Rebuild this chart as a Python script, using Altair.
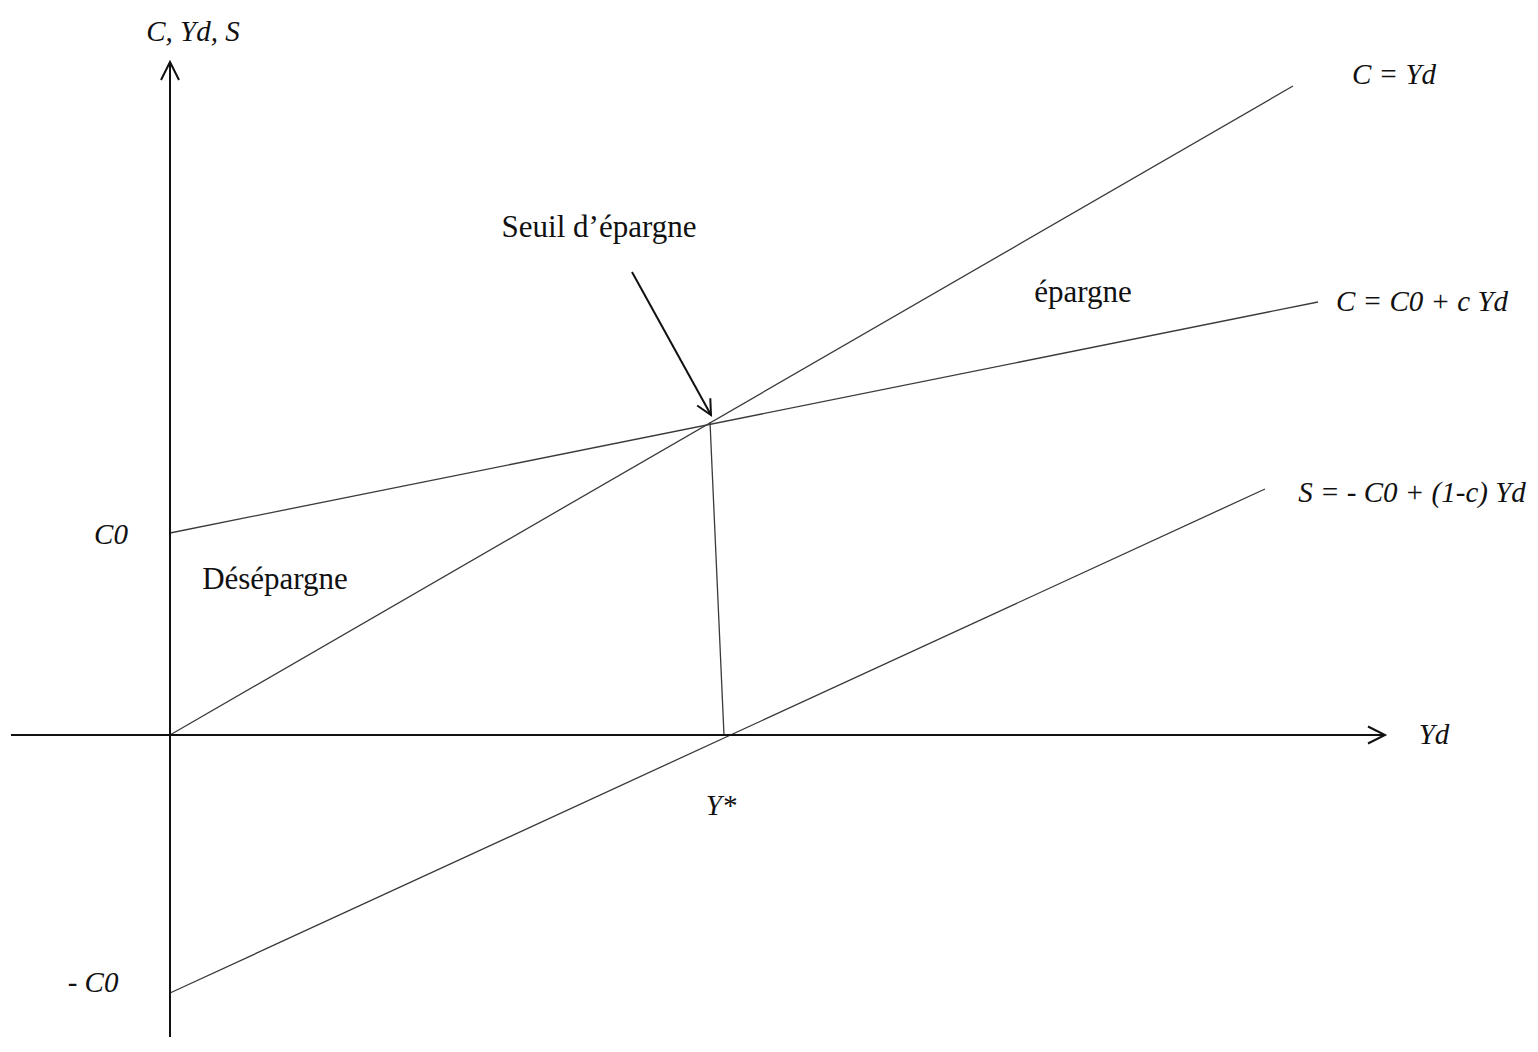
import altair as alt
import pandas as pd

# Schematic Keynesian consumption diagram (arbitrary units: origin at the axes crossing)
seg_names = ["C = Yd", "C = C0 + c Yd", "S = -C0 + (1-c) Yd", "drop"]
seg_x0 = [0, 0, 0, 540]
seg_y0 = [0, 202, -258, 313]
seg_x1 = [1123, 1148, 1095, 554]
seg_y1 = [649, 433, 246, 0]

axis_names = ["x-axis", "y-axis", "seuil-arrow"]
axis_x0 = [-159, 0, 462]
axis_y0 = [0, -302, 463]
axis_x1 = [1215, 0, 541]
axis_y1 = [0, 673, 320]

head_x = [1215, 0, 541]
head_y = [0, 673, 320]
head_angle = [0, 270, 61]
head_size = [1156, 1296, 900]

ital_text = ["C, Yd, S", "C = Yd", "C = C0 + c Yd", "S = - C0 + (1-c) Yd", "Yd", "Y*", "C0", "- C0"]
ital_x = [23, 1224, 1252, 1242, 1264, 551, -59, -77]
ital_y = [703, 660, 433, 242, 0, -71, 200, -248]

norm_text = ["Seuil d’épargne", "épargne", "Désépargne"]
norm_x = [429, 913, 105]
norm_y = [507, 442, 155]

def seg_df(names, x0, y0, x1, y1):
    rows = []
    for n, a, b, c, d in zip(names, x0, y0, x1, y1):
        rows.append({"seg": n, "o": 0, "x": a, "y": b})
        rows.append({"seg": n, "o": 1, "x": c, "y": d})
    return pd.DataFrame(rows)

xs = alt.Scale(domain=[-162, 1360], nice=False, zero=False)
ys = alt.Scale(domain=[-309, 727], nice=False, zero=False)
X = lambda f: alt.X(f, type="quantitative", scale=xs, axis=None)
Y = lambda f: alt.Y(f, type="quantitative", scale=ys, axis=None)

curves = alt.Chart(seg_df(seg_names, seg_x0, seg_y0, seg_x1, seg_y1)).mark_line(
    color="#3a3a3a", strokeWidth=1.3
).encode(x=X("x"), y=Y("y"), detail="seg:N", order="o:Q")

axes = alt.Chart(seg_df(axis_names, axis_x0, axis_y0, axis_x1, axis_y1)).mark_line(
    color="#111111", strokeWidth=2
).encode(x=X("x"), y=Y("y"), detail="seg:N", order="o:Q")

heads = alt.Chart(pd.DataFrame({"x": head_x, "y": head_y, "a": head_angle, "s": head_size})).mark_point(
    shape="M -1 -0.5 L 0 0 L -1 0.5", filled=False, color="#111111", strokeWidth=2, opacity=1
).encode(
    x=X("x"), y=Y("y"),
    angle=alt.Angle("a:Q", scale=None),
    size=alt.Size("s:Q", scale=None, legend=None),
)

ital = alt.Chart(pd.DataFrame({"t": ital_text, "x": ital_x, "y": ital_y})).mark_text(
    font="Liberation Serif", fontStyle="italic", fontSize=29, color="#111111", align="center", baseline="middle"
).encode(x=X("x"), y=Y("y"), text="t:N")

norm = alt.Chart(pd.DataFrame({"t": norm_text, "x": norm_x, "y": norm_y})).mark_text(
    font="Liberation Serif", fontSize=31, color="#111111", align="center", baseline="middle"
).encode(x=X("x"), y=Y("y"), text="t:N")

chart = alt.layer(curves, axes, heads, ital, norm).properties(
    width=1522, height=1036, autosize=alt.AutoSizeParams(type="none"), padding=0,
    background="white"
).configure_view(stroke=None)

chart.save("out.html", embed_options={"renderer": "svg", "actions": False})
